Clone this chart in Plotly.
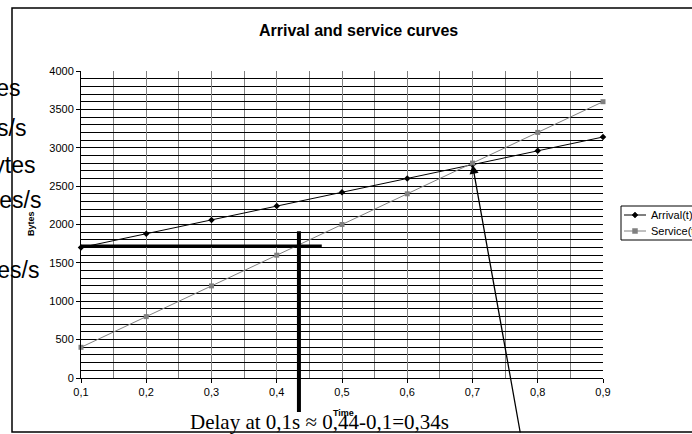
import plotly.graph_objects as go

# ---- data ----
t_values = [0.1, 0.2, 0.3, 0.4, 0.5, 0.6, 0.7, 0.8, 0.9]
t_labels = ["0,1", "0,2", "0,3", "0,4", "0,5", "0,6", "0,7", "0,8", "0,9"]
arrival = [1700, 1880, 2060, 2240, 2420, 2600, 2780, 2960, 3140]
service = [400, 800, 1200, 1600, 2000, 2400, 2800, 3200, 3600]
y_ticks = [0, 500, 1000, 1500, 2000, 2500, 3000, 3500, 4000]
y_labels = ["0", "500", "1000", "1500", "2000", "2500", "3000", "3500", "4000"]
series_names = ["Arrival(t)", "Service(t)"]
title_text = "Arrival and service curves"
x_title = "Time"
y_title = "Bytes"
delay_level = 1720
delay_t = 0.434
delay_end_t = 0.469
delay_top = 1913
delay_text = "Delay at 0,1s \u2248 0,44-0,1=0,34s"
side_texts = ["Bytes", "Bytes/s", "Bytes", "Bytes/s", "Bytes/s"]
meet_index = 6

# ---- layout geometry (pixels) ----
W, H = 692, 434
L, R, T, B = 81, 603, 71, 378


def fx(px):
    return (px - L) / (R - L)


def fy(py):
    return (B - py) / (B - T)


def dx(t):
    return (t - t_values[0]) / (t_values[-1] - t_values[0])


def dy(v):
    return v / y_ticks[-1]


fig = go.Figure()
fig.add_trace(go.Scatter(x=t_values, y=arrival, mode="lines+markers", name=series_names[0],
                         line=dict(color="black", width=1),
                         marker=dict(symbol="diamond", size=5, color="black"),
                         showlegend=False, cliponaxis=False))
fig.add_trace(go.Scatter(x=t_values, y=service, mode="lines+markers", name=series_names[1],
                         line=dict(color="#808080", width=1),
                         marker=dict(symbol="square", size=5, color="#808080"),
                         showlegend=False, cliponaxis=False))

shapes = []
# chart frame
shapes.append(dict(type="rect", xref="paper", yref="paper", x0=fx(12), x1=fx(720),
                   y0=fy(432), y1=fy(8), line=dict(color="black", width=1.5), layer="below"))
# delay lines
shapes.append(dict(type="line", xref="paper", yref="paper", x0=dx(t_values[0]), x1=dx(delay_end_t),
                   y0=dy(delay_level), y1=dy(delay_level), line=dict(color="black", width=3)))
shapes.append(dict(type="line", xref="paper", yref="paper", x0=dx(delay_t), x1=dx(delay_t),
                   y0=fy(412), y1=dy(delay_top), line=dict(color="black", width=4)))

# manual legend
leg_x0, leg_y0, leg_y1 = 621, 206, 240
shapes.append(dict(type="rect", xref="paper", yref="paper", x0=fx(leg_x0), x1=fx(720),
                   y0=fy(leg_y1), y1=fy(leg_y0), line=dict(color="black", width=1),
                   fillcolor="white"))
legend_rows = [(215, "black", "diamond"), (231, "#808080", "square")]
annotations = []
for (py, col, sym), name in zip(legend_rows, series_names):
    shapes.append(dict(type="line", xref="paper", yref="paper", x0=fx(624), x1=fx(646),
                       y0=fy(py), y1=fy(py), line=dict(color=col, width=1)))
    cx = 635
    if sym == "diamond":
        path = "M {a},{b} L {c},{d} L {a},{e} L {f},{d} Z".format(
            a=fx(cx), b=fy(py - 3), c=fx(cx + 3), d=fy(py), e=fy(py + 3), f=fx(cx - 3))
        shapes.append(dict(type="path", xref="paper", yref="paper", path=path,
                           fillcolor=col, line=dict(color=col, width=0.5)))
    else:
        shapes.append(dict(type="rect", xref="paper", yref="paper", x0=fx(cx - 2.5), x1=fx(cx + 2.5),
                           y0=fy(py + 2.5), y1=fy(py - 2.5), fillcolor=col,
                           line=dict(color=col, width=0.5)))
    annotations.append(dict(x=fx(649), y=fy(py), xref="paper", yref="paper", text=name,
                            showarrow=False, xanchor="left", yanchor="middle",
                            font=dict(family="Liberation Sans, Arial", size=11, color="black")))

# title and axis titles
annotations.append(dict(x=fx(358), y=fy(31), xref="paper", yref="paper", text="<b>%s</b>" % title_text,
                        showarrow=False, xanchor="center", yanchor="middle",
                        font=dict(family="Liberation Sans, Arial", size=16, color="black")))
annotations.append(dict(x=fx(343), y=fy(413), xref="paper", yref="paper", text="<b>%s</b>" % x_title,
                        showarrow=False, xanchor="center", yanchor="middle",
                        font=dict(family="Liberation Sans, Arial", size=9, color="black")))
annotations.append(dict(x=fx(31), y=fy(224), xref="paper", yref="paper", text="<b>%s</b>" % y_title,
                        showarrow=False, xanchor="center", yanchor="middle", textangle=-90,
                        font=dict(family="Liberation Sans, Arial", size=9, color="black")))
# delay text
annotations.append(dict(x=fx(319), y=fy(422), xref="paper", yref="paper", text=delay_text,
                        showarrow=False, xanchor="center", yanchor="middle",
                        font=dict(family="Liberation Serif, Times New Roman", size=21, color="black")))
# clipped side texts
side_pos = [(88, 23), (128, 28), (165, 38), (200, 43), (270, 41)]
for (py, right), txt in zip(side_pos, side_texts):
    annotations.append(dict(x=fx(right), y=fy(py), xref="paper", yref="paper", text=txt,
                            showarrow=False, xanchor="right", yanchor="middle",
                            font=dict(family="Liberation Sans, Arial", size=23, color="black")))
# arrow to meeting point
annotations.append(dict(x=t_values[meet_index], y=arrival[meet_index], xref="x", yref="y", text="",
                        showarrow=True, ax=48, ay=272, arrowhead=2, arrowsize=1.4,
                        arrowwidth=1.3, arrowcolor="black", standoff=0))

fig.update_layout(
    width=W, height=H,
    margin=dict(l=L, r=W - R, t=T, b=H - B, pad=0),
    paper_bgcolor="white", plot_bgcolor="white",
    showlegend=False,
    shapes=shapes, annotations=annotations,
    font=dict(family="Liberation Sans, Arial", size=11, color="black"),
    xaxis=dict(range=[t_values[0], t_values[-1]], tickvals=t_values, ticktext=t_labels,
               showline=True, linecolor="black", linewidth=1, mirror=False,
               ticks="outside", ticklen=4, tickcolor="black",
               showgrid=True, gridcolor="#808080", gridwidth=1, zeroline=False,
               minor=dict(dtick=0.05, tick0=0.1, showgrid=True, gridcolor="#808080", gridwidth=1, ticks=""),
               tickfont=dict(size=11)),
    yaxis=dict(range=[y_ticks[0], y_ticks[-1]], tickvals=y_ticks, ticktext=y_labels,
               showline=True, linecolor="black", linewidth=1,
               ticks="outside", ticklen=4, tickcolor="black",
               showgrid=True, gridcolor="black", gridwidth=1, zeroline=False,
               minor=dict(dtick=100, tick0=0, showgrid=True, gridcolor="black", gridwidth=1, ticks=""),
               tickfont=dict(size=11)),
)

fig.write_html("out.html", config={"displayModeBar": False, "staticPlot": True},
               post_script="document.body.style.margin='0';document.body.style.overflow='hidden';")
